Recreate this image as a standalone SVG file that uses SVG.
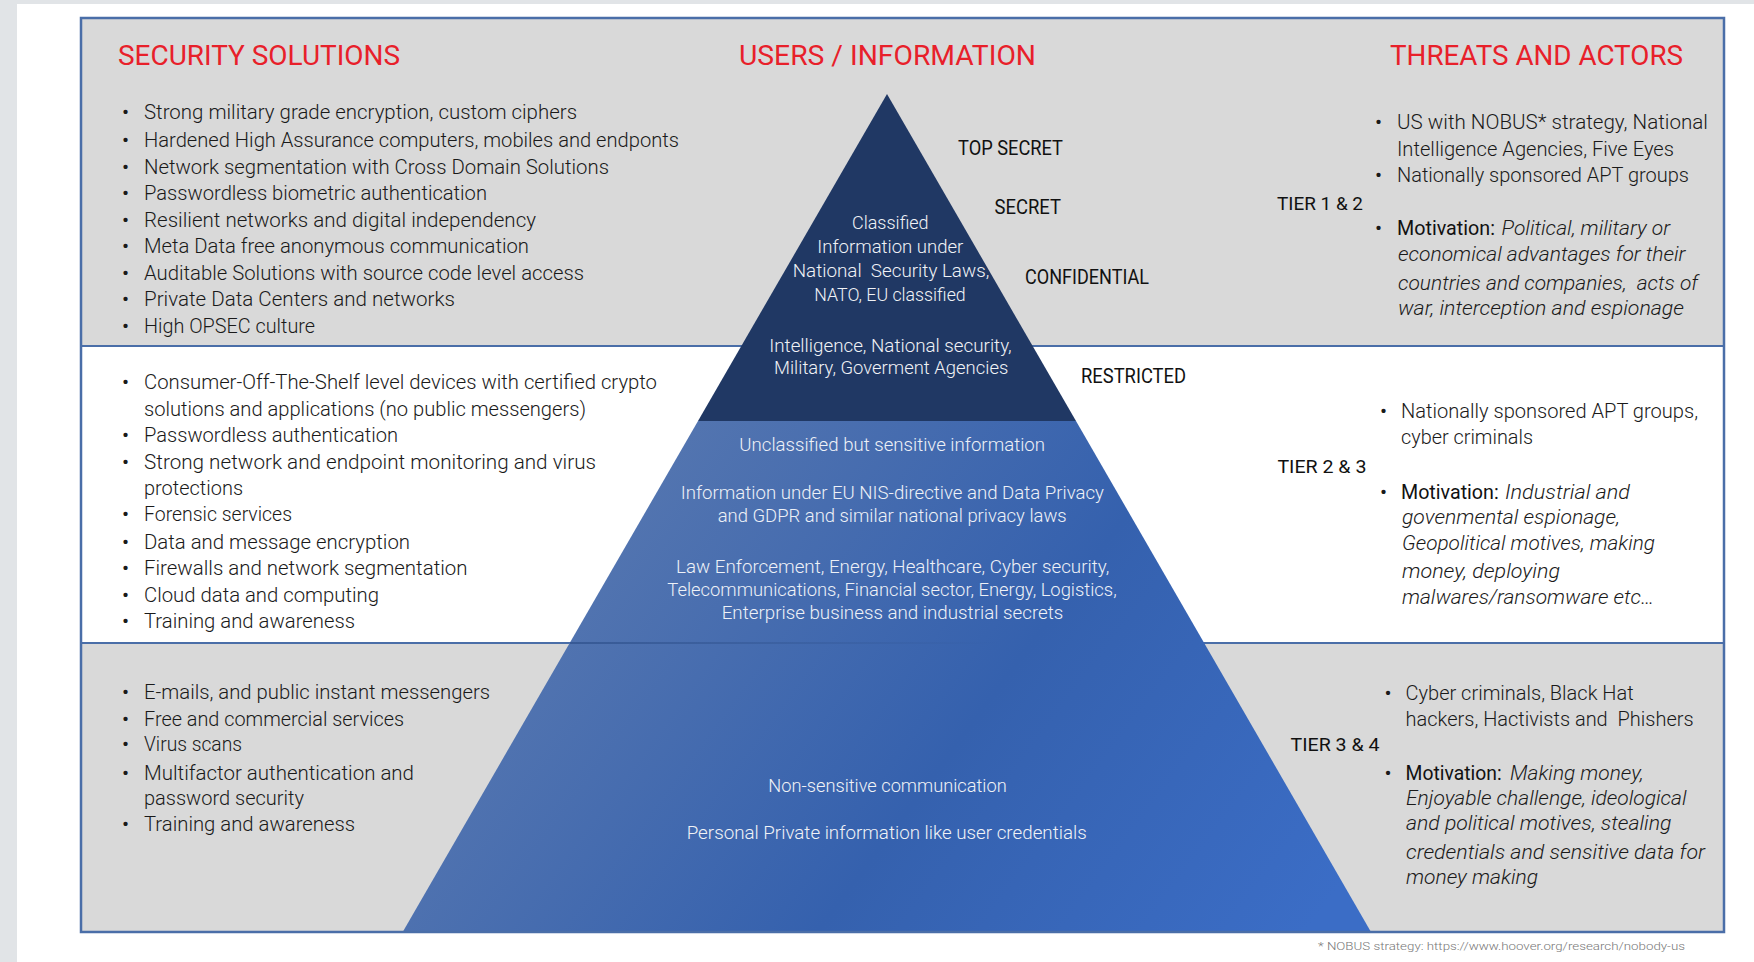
<svg xmlns="http://www.w3.org/2000/svg" width="1754" height="962" viewBox="0 0 1754 962">
<defs>
<style>
text{font-family:Roboto,"Liberation Sans",sans-serif;white-space:pre}
.h{font-size:28px;fill:#e8202a}
.b{font-size:21px;fill:#1a1a1a;font-weight:300}
.m{font-size:21px;fill:#111}
.i{font-size:21px;fill:#1a1a1a;font-style:italic;font-weight:300}
.lab{font-size:21px;fill:#111}
.tier{font-size:19px;fill:#111}
.w{font-size:19px;fill:#f0f2f6;font-weight:300}
.w2{font-size:18.5px;fill:#eef1f7;font-weight:300}
.fn{font-size:11.5px;fill:#777;font-weight:300}
.dot{font-size:21px;fill:#1a1a1a}
.band{stroke:none}
.div{stroke:#4a6ea8;stroke-width:2}
</style>
<linearGradient id="lowGrad" gradientUnits="userSpaceOnUse" x1="600" y1="420" x2="1300" y2="940">
<stop offset="0" stop-color="#5878b0"/>
<stop offset="0.55" stop-color="#3561ae"/>
<stop offset="1" stop-color="#3b6dc6"/>
</linearGradient>
<linearGradient id="fadeLine" gradientUnits="userSpaceOnUse" x1="569" y1="0" x2="1000" y2="0">
<stop offset="0" stop-color="#2d4f8a" stop-opacity="0.7"/>
<stop offset="1" stop-color="#2d4f8a" stop-opacity="0"/>
</linearGradient>
</defs>

<g id="page">
<rect x="0" y="0" width="1754" height="962" fill="#e1e4e7"/>
<rect x="17" y="4" width="1737" height="958" fill="#ffffff"/>
</g>

<g id="bands">
<rect class="band" x="81" y="18" width="1643" height="328" fill="#d9d9d9"/>
<rect class="band" x="81" y="346" width="1643" height="297" fill="#ffffff"/>
<rect class="band" x="81" y="643" width="1643" height="289" fill="#d9d9d9"/>
<line class="div" x1="81" y1="346" x2="1724" y2="346"/>
<line class="div" x1="81" y1="643" x2="1724" y2="643"/>
</g>

<g id="pyramid">
<polygon points="698,421 1076,421 1371,932 402.7,932" fill="url(#lowGrad)"/>
<polygon points="887,94 1076,421 698,421" fill="#203864"/>
<line x1="570" y1="643" x2="1000" y2="643" stroke="url(#fadeLine)" stroke-width="2"/>
</g>

<g id="frame">
<rect x="81" y="18" width="1643" height="914" fill="none" stroke="#4a6ea8" stroke-width="2.5"/>
</g>

<g id="headings">
<text class="h" x="118" y="65" textLength="282" lengthAdjust="spacingAndGlyphs">SECURITY SOLUTIONS</text>
<text class="h" x="739" y="65" textLength="297" lengthAdjust="spacingAndGlyphs">USERS / INFORMATION</text>
<text class="h" x="1390" y="65" textLength="293" lengthAdjust="spacingAndGlyphs">THREATS AND ACTORS</text>
</g>

<g id="solutions-top">
<text class="dot" x="122" y="119">•</text>
<text class="b" x="144" y="119" textLength="433" lengthAdjust="spacingAndGlyphs">Strong military grade encryption, custom ciphers</text>
<text class="dot" x="122" y="146.5">•</text>
<text class="b" x="144" y="146.5" textLength="535" lengthAdjust="spacingAndGlyphs">Hardened High Assurance computers, mobiles and endponts</text>
<text class="dot" x="122" y="173.5">•</text>
<text class="b" x="144" y="173.5" textLength="465" lengthAdjust="spacingAndGlyphs">Network segmentation with Cross Domain Solutions</text>
<text class="dot" x="122" y="200">•</text>
<text class="b" x="144" y="200" textLength="343" lengthAdjust="spacingAndGlyphs">Passwordless biometric authentication</text>
<text class="dot" x="122" y="226.5">•</text>
<text class="b" x="144" y="226.5" textLength="392" lengthAdjust="spacingAndGlyphs">Resilient networks and digital independency</text>
<text class="dot" x="122" y="252.5">•</text>
<text class="b" x="144" y="252.5" textLength="385" lengthAdjust="spacingAndGlyphs">Meta Data free anonymous communication</text>
<text class="dot" x="122" y="279.5">•</text>
<text class="b" x="144" y="279.5" textLength="440" lengthAdjust="spacingAndGlyphs">Auditable Solutions with source code level access</text>
<text class="dot" x="122" y="306">•</text>
<text class="b" x="144" y="306" textLength="311" lengthAdjust="spacingAndGlyphs">Private Data Centers and networks</text>
<text class="dot" x="122" y="333">•</text>
<text class="b" x="144" y="333" textLength="171" lengthAdjust="spacingAndGlyphs">High OPSEC culture</text>
</g>

<g id="solutions-middle">
<text class="dot" x="122" y="389">•</text>
<text class="b" x="144" y="389" textLength="513" lengthAdjust="spacingAndGlyphs">Consumer-Off-The-Shelf level devices with certified crypto</text>
<text class="b" x="144" y="416" textLength="442" lengthAdjust="spacingAndGlyphs">solutions and applications (no public messengers)</text>
<text class="dot" x="122" y="442">•</text>
<text class="b" x="144" y="442" textLength="254" lengthAdjust="spacingAndGlyphs">Passwordless authentication</text>
<text class="dot" x="122" y="469">•</text>
<text class="b" x="144" y="469" textLength="452" lengthAdjust="spacingAndGlyphs">Strong network and endpoint monitoring and virus</text>
<text class="b" x="144" y="495" textLength="99" lengthAdjust="spacingAndGlyphs">protections</text>
<text class="dot" x="122" y="521">•</text>
<text class="b" x="144" y="521" textLength="148" lengthAdjust="spacingAndGlyphs">Forensic services</text>
<text class="dot" x="122" y="549">•</text>
<text class="b" x="144" y="549" textLength="266" lengthAdjust="spacingAndGlyphs">Data and message encryption</text>
<text class="dot" x="122" y="575">•</text>
<text class="b" x="144" y="575" textLength="323.5" lengthAdjust="spacingAndGlyphs">Firewalls and network segmentation</text>
<text class="dot" x="122" y="602">•</text>
<text class="b" x="144" y="602" textLength="235" lengthAdjust="spacingAndGlyphs">Cloud data and computing</text>
<text class="dot" x="122" y="628">•</text>
<text class="b" x="144" y="628" textLength="211" lengthAdjust="spacingAndGlyphs">Training and awareness</text>
</g>

<g id="solutions-bottom">
<text class="dot" x="122" y="699">•</text>
<text class="b" x="144" y="699" textLength="346" lengthAdjust="spacingAndGlyphs">E-mails, and public instant messengers</text>
<text class="dot" x="122" y="726">•</text>
<text class="b" x="144" y="726" textLength="260" lengthAdjust="spacingAndGlyphs">Free and commercial services</text>
<text class="dot" x="122" y="751">•</text>
<text class="b" x="144" y="751" textLength="98" lengthAdjust="spacingAndGlyphs">Virus scans</text>
<text class="dot" x="122" y="780">•</text>
<text class="b" x="144" y="780" textLength="270" lengthAdjust="spacingAndGlyphs">Multifactor authentication and</text>
<text class="b" x="144" y="805" textLength="160" lengthAdjust="spacingAndGlyphs">password security</text>
<text class="dot" x="122" y="831">•</text>
<text class="b" x="144" y="831" textLength="211" lengthAdjust="spacingAndGlyphs">Training and awareness</text>
</g>

<g id="classification-labels">
<text class="lab" x="958" y="155" textLength="105" lengthAdjust="spacingAndGlyphs">TOP SECRET</text>
<text class="lab" x="994.5" y="214" textLength="66.5" lengthAdjust="spacingAndGlyphs">SECRET</text>
<text class="lab" x="1025" y="284" textLength="124" lengthAdjust="spacingAndGlyphs">CONFIDENTIAL</text>
<text class="lab" x="1081" y="383" textLength="105" lengthAdjust="spacingAndGlyphs">RESTRICTED</text>
</g>

<g id="pyramid-text">
<text class="w" x="852" y="229" textLength="76.6" lengthAdjust="spacingAndGlyphs">Classified</text>
<text class="w" x="817.3" y="252.7" textLength="146" lengthAdjust="spacingAndGlyphs">Information under</text>
<text class="w" x="792.7" y="277.3" textLength="196.6" lengthAdjust="spacingAndGlyphs">National  Security Laws,</text>
<text class="w" x="814.3" y="300.7" textLength="151.4" lengthAdjust="spacingAndGlyphs">NATO, EU classified</text>
<text class="w" x="769.3" y="351.7" textLength="242.4" lengthAdjust="spacingAndGlyphs">Intelligence, National security,</text>
<text class="w" x="774" y="374.3" textLength="234.3" lengthAdjust="spacingAndGlyphs">Military, Goverment Agencies</text>
<text class="w2" x="739.3" y="450.7" textLength="305.7" lengthAdjust="spacingAndGlyphs">Unclassified but sensitive information</text>
<text class="w2" x="680.7" y="499" textLength="423.3" lengthAdjust="spacingAndGlyphs">Information under EU NIS-directive and Data Privacy</text>
<text class="w2" x="717.7" y="521.7" textLength="349" lengthAdjust="spacingAndGlyphs">and GDPR and similar national privacy laws</text>
<text class="w2" x="676" y="573.3" textLength="433.3" lengthAdjust="spacingAndGlyphs">Law Enforcement, Energy, Healthcare, Cyber security,</text>
<text class="w2" x="667.3" y="596" textLength="449.4" lengthAdjust="spacingAndGlyphs">Telecommunications, Financial sector, Energy, Logistics,</text>
<text class="w2" x="721.7" y="619" textLength="341.6" lengthAdjust="spacingAndGlyphs">Enterprise business and industrial secrets</text>
<text class="w" x="768.3" y="791.7" textLength="238.4" lengthAdjust="spacingAndGlyphs">Non-sensitive communication</text>
<text class="w" x="686.7" y="839.3" textLength="400" lengthAdjust="spacingAndGlyphs">Personal Private information like user credentials</text>
</g>

<g id="threats-top">
<text class="tier" x="1277" y="210" textLength="86" lengthAdjust="spacingAndGlyphs">TIER 1 &amp; 2</text>
<text class="dot" x="1375" y="128.5">•</text>
<text class="b" x="1397" y="128.5" textLength="311" lengthAdjust="spacingAndGlyphs">US with NOBUS* strategy, National</text>
<text class="b" x="1397" y="156" textLength="277" lengthAdjust="spacingAndGlyphs">Intelligence Agencies, Five Eyes</text>
<text class="dot" x="1375" y="181.5">•</text>
<text class="b" x="1397" y="181.5" textLength="292" lengthAdjust="spacingAndGlyphs">Nationally sponsored APT groups</text>
<text class="dot" x="1375" y="235">•</text>
<text class="m" x="1397" y="235" textLength="98" lengthAdjust="spacingAndGlyphs">Motivation:</text>
<text class="i" x="1501.5" y="235" textLength="168.5" lengthAdjust="spacingAndGlyphs">Political, military or</text>
<text class="i" x="1398" y="261" textLength="287.5" lengthAdjust="spacingAndGlyphs">economical advantages for their</text>
<text class="i" x="1398" y="289.5" textLength="300" lengthAdjust="spacingAndGlyphs">countries and companies,  acts of</text>
<text class="i" x="1398" y="314.5" textLength="286" lengthAdjust="spacingAndGlyphs">war, interception and espionage</text>
</g>

<g id="threats-middle">
<text class="tier" x="1277.4" y="473" textLength="89" lengthAdjust="spacingAndGlyphs">TIER 2 &amp; 3</text>
<text class="dot" x="1380" y="417.5">•</text>
<text class="b" x="1401" y="417.5" textLength="297" lengthAdjust="spacingAndGlyphs">Nationally sponsored APT groups,</text>
<text class="b" x="1401" y="444" textLength="132" lengthAdjust="spacingAndGlyphs">cyber criminals</text>
<text class="dot" x="1380" y="498.5">•</text>
<text class="m" x="1401" y="498.5" textLength="97.7" lengthAdjust="spacingAndGlyphs">Motivation:</text>
<text class="i" x="1505" y="498.5" textLength="125" lengthAdjust="spacingAndGlyphs">Industrial and</text>
<text class="i" x="1402" y="524" textLength="218" lengthAdjust="spacingAndGlyphs">govenmental espionage,</text>
<text class="i" x="1402" y="550" textLength="253" lengthAdjust="spacingAndGlyphs">Geopolitical motives, making</text>
<text class="i" x="1402" y="577.5" textLength="158" lengthAdjust="spacingAndGlyphs">money, deploying</text>
<text class="i" x="1402" y="603.5" textLength="252" lengthAdjust="spacingAndGlyphs">malwares/ransomware etc…</text>
</g>

<g id="threats-bottom">
<text class="tier" x="1290.5" y="751" textLength="89" lengthAdjust="spacingAndGlyphs">TIER 3 &amp; 4</text>
<text class="dot" x="1384.5" y="699.5">•</text>
<text class="b" x="1405.6" y="699.5" textLength="228" lengthAdjust="spacingAndGlyphs">Cyber criminals, Black Hat</text>
<text class="b" x="1405.6" y="726" textLength="288" lengthAdjust="spacingAndGlyphs">hackers, Hactivists and  Phishers</text>
<text class="dot" x="1384.5" y="779.5">•</text>
<text class="m" x="1405.6" y="779.5" textLength="96" lengthAdjust="spacingAndGlyphs">Motivation:</text>
<text class="i" x="1510" y="779.5" textLength="133.6" lengthAdjust="spacingAndGlyphs">Making money,</text>
<text class="i" x="1406" y="804.5" textLength="280.6" lengthAdjust="spacingAndGlyphs">Enjoyable challenge, ideological</text>
<text class="i" x="1406" y="830" textLength="265.5" lengthAdjust="spacingAndGlyphs">and political motives, stealing</text>
<text class="i" x="1406" y="858.5" textLength="299" lengthAdjust="spacingAndGlyphs">credentials and sensitive data for</text>
<text class="i" x="1406" y="884" textLength="132" lengthAdjust="spacingAndGlyphs">money making</text>
</g>

<g id="footnote">
<text class="fn" x="1318" y="950" textLength="367" lengthAdjust="spacingAndGlyphs">* NOBUS strategy: https://www.hoover.org/research/nobody-us</text>
</g>
</svg>
